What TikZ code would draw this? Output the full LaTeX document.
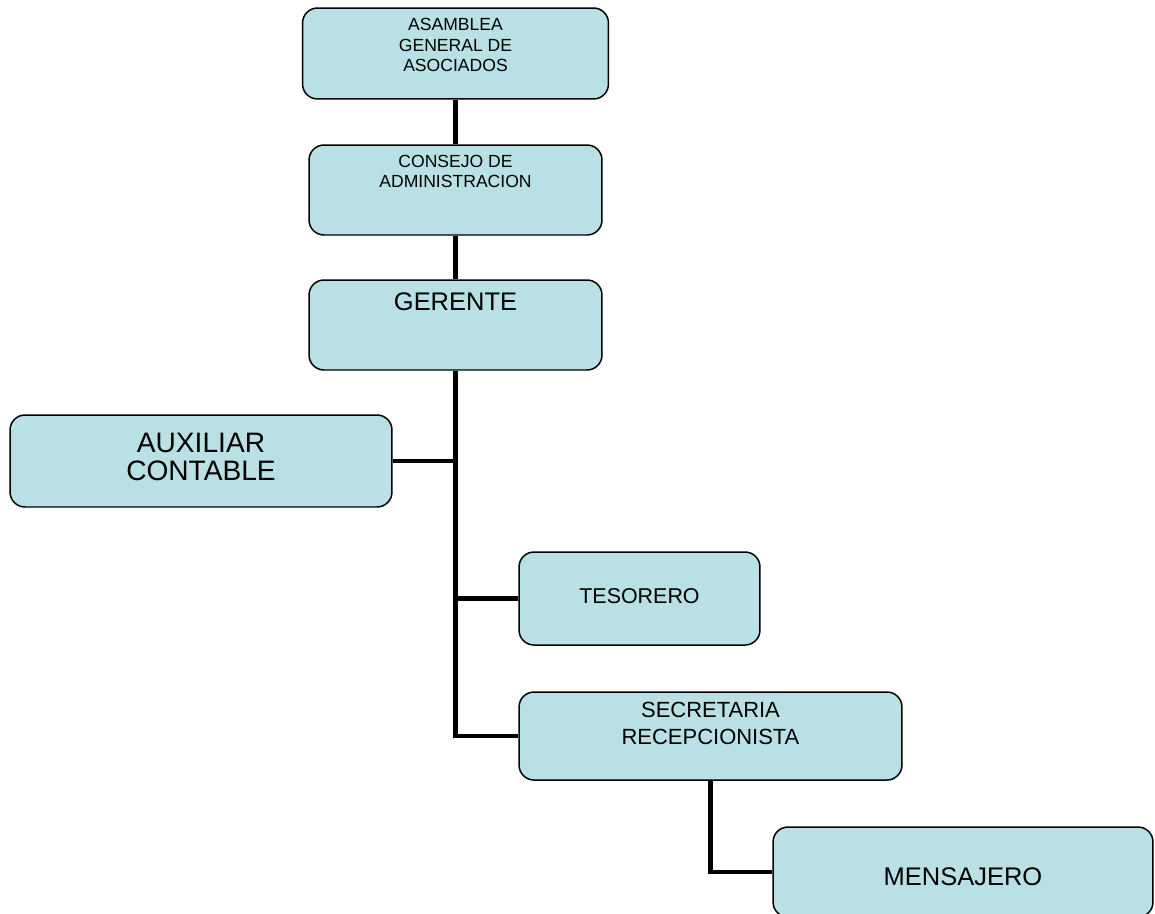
\documentclass[tikz,border=0pt]{standalone}
\usepackage{fontspec}
\setmainfont{Liberation Sans}
\usetikzlibrary{calc}
\definecolor{azulcaja}{RGB}{185,224,228}
\newcommand{\textocaja}[4]{\parbox[c][#2][t]{#1}{\centering\vspace*{#3}#4\par}}
\tikzset{
 caja/.style={draw=black, line width=0.85pt, fill=azulcaja, rounded corners=0.3cm, inner sep=0pt},
 linea/.style={black, line width=2.8pt},
}

\begin{document}
\begin{tikzpicture}[x=0.02cm, y=-0.02cm]
\useasboundingbox (0,0) rectangle (1155,913);
\node[caja, font=\fontsize{10}{11.6}\selectfont] (asamblea) at (455.5,53.5)
 {\textocaja{6.12cm}{1.82cm}{6pt}{ASAMBLEA\\GENERAL DE\\ASOCIADOS}};
\node[caja, font=\fontsize{10}{11.4}\selectfont] (consejo) at (455.5,190)
 {\textocaja{5.86cm}{1.8cm}{6pt}{CONSEJO DE\\ADMINISTRACION}};
\node[caja, font=\fontsize{14.5}{16}\selectfont] (gerente) at (455.5,325)
 {\textocaja{5.86cm}{1.8cm}{7.3pt}{GERENTE}};
\node[caja, font=\fontsize{16}{15.9}\selectfont] (auxiliar) at (201,461)
 {\textocaja{7.64cm}{1.84cm}{10.2pt}{AUXILIAR\\CONTABLE}};
\node[caja, font=\fontsize{12.2}{14}\selectfont] (tesorero) at (639.5,598.5)
 {\textocaja{4.82cm}{1.86cm}{21pt}{TESORERO}};
\node[caja, font=\fontsize{12.5}{15.3}\selectfont] (secretaria) at (710.5,736)
 {\textocaja{7.66cm}{1.76cm}{5.7pt}{SECRETARIA\\RECEPCIONISTA}};
\node[caja, font=\fontsize{14.5}{16}\selectfont] (mensajero) at (963,872)
 {\textocaja{7.6cm}{1.8cm}{23.2pt}{MENSAJERO}};
% lineas
\draw[linea] (asamblea) -- (consejo);
\draw[linea] (consejo) -- (gerente);
\draw[linea] (gerente.south) |- (secretaria.west);
\foreach \n in {auxiliar, tesorero} {
 \draw[linea] (\n) -- (\n -| gerente.south);
}
\draw[linea] (secretaria.south) |- (mensajero.west);
\end{tikzpicture}
\end{document}
